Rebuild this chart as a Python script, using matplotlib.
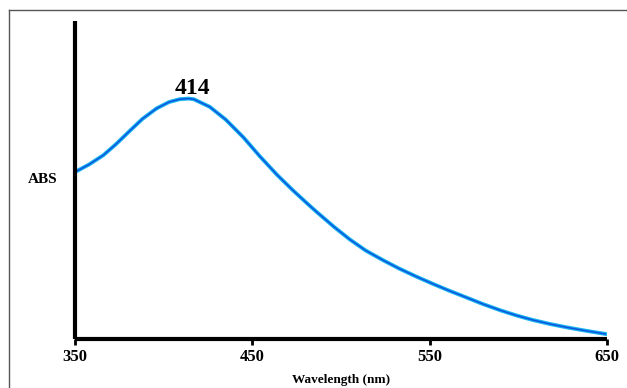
import matplotlib.pyplot as plt
from matplotlib.lines import Line2D

plt.rcParams['font.family'] = ['Liberation Serif', 'DejaVu Serif']

# spectrum (ABS in arbitrary units)
wavelength = [350, 358, 366, 373, 381, 388, 396, 403, 409, 414, 417, 426,
              435, 445, 454, 464, 473, 481, 486, 496, 505, 514, 524, 533,
              543, 552, 561, 571, 580, 590, 599, 608, 618, 627, 637, 649]
absorbance = [0.525, 0.549, 0.578, 0.612, 0.655, 0.692, 0.725, 0.745, 0.754,
              0.756, 0.754, 0.730, 0.690, 0.634, 0.576, 0.516, 0.467, 0.426,
              0.401, 0.353, 0.313, 0.278, 0.247, 0.221, 0.195, 0.173, 0.152,
              0.130, 0.110, 0.090, 0.074, 0.060, 0.047, 0.037, 0.027, 0.016]
xticks = [350, 450, 550, 650]
peak_label = '414'
peak_x = 416
peak_abs = 0.756

fig = plt.figure(figsize=(6.27, 3.88), dpi=100)
ax = fig.add_axes([0.1196, 0.1263, 0.8484, 0.8196])

# light cyan edge with a darker blue core, like the scanned trace
ax.plot(wavelength, absorbance, color='#18b4f2', linewidth=2.8,
        solid_joinstyle='round')
ax.plot(wavelength, absorbance, color='#0b55dc', linewidth=1.1,
        solid_joinstyle='round')

ax.set_xlim(350, 650)
ax.set_ylim(0, 1)
ax.set_xticks(xticks)
ax.set_xticklabels([str(t) for t in xticks], fontsize=12, fontweight='bold')
ax.set_yticks([])
ax.tick_params(axis='x', direction='out', length=4, width=2, pad=3)

for side in ['top', 'right']:
    ax.spines[side].set_visible(False)
for side in ['left', 'bottom']:
    ax.spines[side].set_linewidth(3)
    ax.spines[side].set_color('black')
    ax.spines[side].set_capstyle('butt')

ax.set_xlabel('Wavelength (nm)', fontsize=9.5, fontweight='bold', labelpad=7)
fig.text(0.068, 0.537, 'ABS', fontsize=11, fontweight='bold', ha='center', va='center')

ax.annotate(peak_label, xy=(peak_x, peak_abs), xytext=(0, 0),
            textcoords='offset points', ha='center', va='bottom',
            fontsize=17, fontweight='bold')

# thin grey frame on the top and left of the picture
fig.add_artist(Line2D([9 / 627, 1], [1 - 10 / 388, 1 - 10 / 388],
                      transform=fig.transFigure, color='#555555', linewidth=1))
fig.add_artist(Line2D([9 / 627, 9 / 627], [0, 1 - 10 / 388],
                      transform=fig.transFigure, color='#555555', linewidth=1))

fig.savefig('out.png', dpi=100)
